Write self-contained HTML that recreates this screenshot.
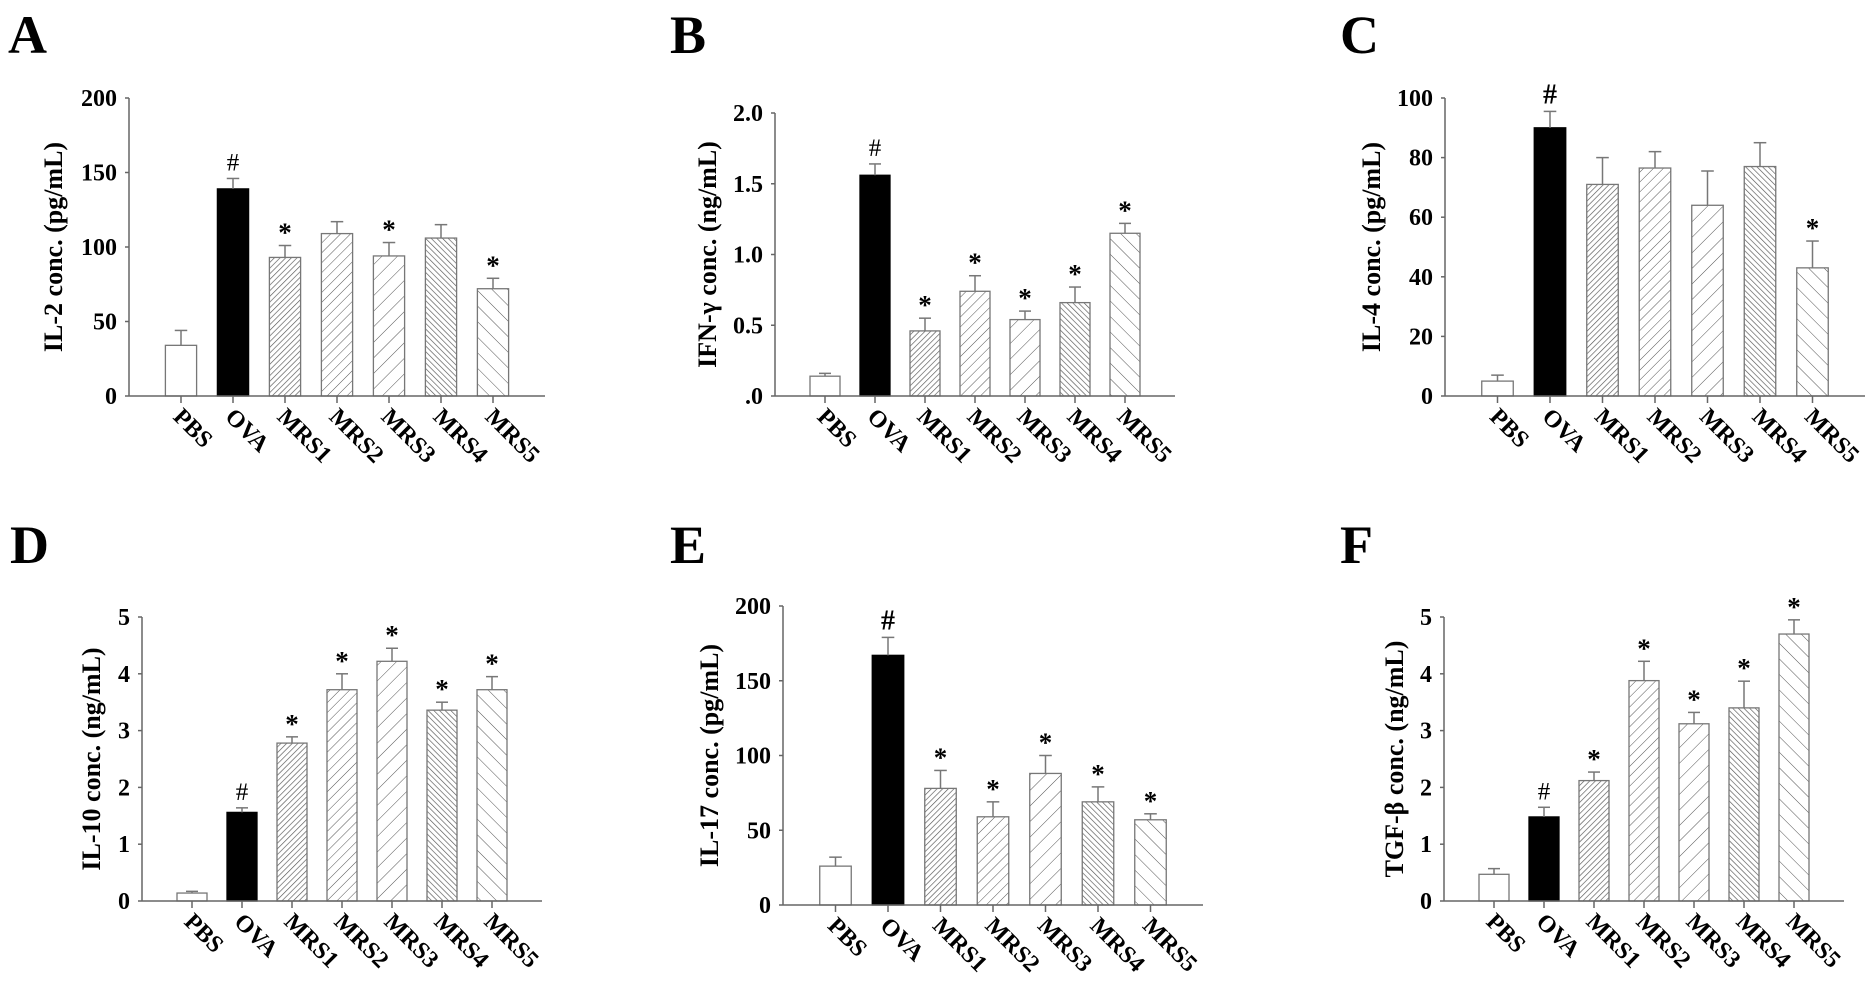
<!DOCTYPE html>
<html><head><meta charset="utf-8">
<style>
html,body{margin:0;padding:0;background:#fff;}
svg{display:block;font-family:"Liberation Serif",serif;}
</style></head>
<body>
<svg id="fig" width="1870" height="992" viewBox="0 0 1870 992" xmlns="http://www.w3.org/2000/svg">
<defs>
<pattern id="p1" width="4" height="4" patternUnits="userSpaceOnUse" patternTransform="rotate(45)"><rect width="4" height="4" fill="#fff"/><line x1="0" y1="0" x2="0" y2="4" stroke="#555" stroke-width="1.3"/></pattern>
<pattern id="p2" width="7" height="7" patternUnits="userSpaceOnUse" patternTransform="rotate(45)"><rect width="7" height="7" fill="#fff"/><line x1="0" y1="0" x2="0" y2="7" stroke="#555" stroke-width="1"/></pattern>
<pattern id="p3" width="11" height="11" patternUnits="userSpaceOnUse" patternTransform="rotate(45)"><rect width="11" height="11" fill="#fff"/><line x1="0" y1="0" x2="0" y2="11" stroke="#555" stroke-width="1"/></pattern>
<pattern id="p4" width="4" height="4" patternUnits="userSpaceOnUse" patternTransform="rotate(-45)"><rect width="4" height="4" fill="#fff"/><line x1="0" y1="0" x2="0" y2="4" stroke="#555" stroke-width="1.3"/></pattern>
<pattern id="p5" width="11" height="11" patternUnits="userSpaceOnUse" patternTransform="rotate(-45)"><rect width="11" height="11" fill="#fff"/><line x1="0" y1="0" x2="0" y2="11" stroke="#555" stroke-width="1"/></pattern>
</defs>
</svg>
<script>
const categories = ["PBS","OVA","MRS1","MRS2","MRS3","MRS4","MRS5"];
const valuesA = [34,139,93,109,94,106,72];
const errorsA = [44,146,101,117,103,115,79];
const marksA = ["","#","*","","*","","*"];
const ticksA = [0,50,100,150,200];
const tickLabelsA = ["0","50","100","150","200"];
const valuesB = [0.14,1.56,0.46,0.74,0.54,0.66,1.15];
const errorsB = [0.16,1.64,0.55,0.85,0.60,0.77,1.22];
const marksB = ["","#","*","*","*","*","*"];
const ticksB = [0,0.5,1,1.5,2];
const tickLabelsB = [".0","0.5","1.0","1.5","2.0"];
const valuesC = [5,90,71,76.5,64,77,43];
const errorsC = [7,95.5,80,82,75.5,85,52];
const marksC = ["","#","","","","","*"];
const ticksC = [0,20,40,60,80,100];
const tickLabelsC = ["0","20","40","60","80","100"];
const valuesD = [0.14,1.56,2.78,3.72,4.22,3.36,3.72];
const errorsD = [0.17,1.64,2.89,4.0,4.45,3.5,3.95];
const marksD = ["","#","*","*","*","*","*"];
const ticksD = [0,1,2,3,4,5];
const tickLabelsD = ["0","1","2","3","4","5"];
const valuesE = [26,167,78,59,88,69,57];
const errorsE = [32,179,90,69,100,79,61];
const marksE = ["","#","*","*","*","*","*"];
const ticksE = [0,50,100,150,200];
const tickLabelsE = ["0","50","100","150","200"];
const valuesF = [0.47,1.48,2.12,3.88,3.12,3.40,4.70];
const errorsF = [0.57,1.65,2.27,4.22,3.32,3.87,4.95];
const marksF = ["","#","*","*","*","*","*"];
const ticksF = [0,1,2,3,4,5];
const tickLabelsF = ["0","1","2","3","4","5"];

const NS="http://www.w3.org/2000/svg";
const svg=document.getElementById('fig');
const fills=["#fff","#000","url(#p1)","url(#p2)","url(#p3)","url(#p4)","url(#p5)"];
function mk(tag,attrs,parent){const e=document.createElementNS(NS,tag);for(const k in attrs)e.setAttribute(k,attrs[k]);(parent||svg).appendChild(e);return e;}

function panel(cfg){
  const g=mk('g',{});
  
  
  const yMin=cfg.ticks[0], yMax=cfg.ticks[cfg.ticks.length-1];
  const y=v=>cfg.yBot-(v-yMin)/(yMax-yMin)*(cfg.yBot-cfg.yTop);
  const x=i=>cfg.axisX+cfg.step*(i+1);
  const bw=cfg.step*0.6;
  const L=mk('text',{x:cfg.lx,y:cfg.ly,'font-size':54,'font-weight':'bold'},g);L.textContent=cfg.letter;
  
  
  cfg.values.forEach((v,i)=>{
    const r=mk('rect',{x:x(i)-bw/2,y:y(v),width:bw,height:cfg.yBot-y(v),fill:fills[i],stroke:i==1?'#000':'#777','stroke-width':1.3},g);
    
    
    const e=cfg.errors[i];
    const eg=mk('g',{stroke:'#777','stroke-width':1.5},g);
    
    
    mk('line',{x1:x(i),x2:x(i),y1:y(v),y2:y(e)},eg);
    mk('line',{x1:x(i)-bw*0.2,x2:x(i)+bw*0.2,y1:y(e),y2:y(e)},eg);
    if(cfg.marks[i]){
      const m=mk('text',{x:x(i),y:y(e)-(cfg.marks[i]=='#'?8:4),'text-anchor':'middle','font-size':cfg.marks[i]=='#'?(cfg.boldHash?28:25):27,'font-weight':cfg.marks[i]=='#'&&!cfg.boldHash?'normal':'bold'},g);
      m.textContent=cfg.marks[i];
      
      
    }
  });
  const ax=mk('g',{stroke:'#666','stroke-width':1.5},g);
  
  
  mk('line',{x1:cfg.axisX,x2:cfg.axisX,y1:cfg.yTop,y2:cfg.yBot},ax);
  mk('line',{x1:cfg.axisX,x2:cfg.axisX+cfg.step*8,y1:cfg.yBot,y2:cfg.yBot},ax);
  cfg.ticks.forEach((t,k)=>{
    mk('line',{x1:cfg.axisX-4,x2:cfg.axisX,y1:y(t),y2:y(t)},ax);
    const tl=mk('text',{x:cfg.axisX-12,y:y(t)+8,'text-anchor':'end','font-size':24,'font-weight':'bold'},g);
    tl.textContent=cfg.tickLabels[k];
    
    
  });
  categories.forEach((c,i)=>{
    mk('line',{x1:x(i),x2:x(i),y1:cfg.yBot,y2:cfg.yBot+7},ax);
    const xl=mk('text',{x:0,y:0,'font-size':24,'font-weight':'bold',transform:`translate(${x(i)-9},${cfg.yBot+22}) rotate(45)`},g);
    xl.textContent=c;
    
    
  });
  const t=mk('text',{x:0,y:0,'text-anchor':'middle','font-size':26,'font-weight':'bold',transform:`translate(${cfg.titleX},${(cfg.yTop+cfg.yBot)/2}) rotate(-90)`},g);
  t.textContent=cfg.title;
  
  
}

panel({letter:'A',lx:8,ly:53,axisX:129,step:52,yTop:98,yBot:396,values:valuesA,errors:errorsA,marks:marksA,ticks:ticksA,tickLabels:tickLabelsA,title:'IL-2 conc. (pg/mL)',titleX:62});
panel({letter:'B',lx:670,ly:53,axisX:775,step:50,yTop:113,yBot:396,values:valuesB,errors:errorsB,marks:marksB,ticks:ticksB,tickLabels:tickLabelsB,title:'IFN-γ conc. (ng/mL)',titleX:716});
panel({letter:'C',lx:1340,ly:53,axisX:1445,step:52.5,yTop:98,yBot:396,values:valuesC,errors:errorsC,marks:marksC,ticks:ticksC,tickLabels:tickLabelsC,title:'IL-4 conc. (pg/mL)',titleX:1380,boldHash:true});
panel({letter:'D',lx:10,ly:563,axisX:142,step:50,yTop:617,yBot:901,values:valuesD,errors:errorsD,marks:marksD,ticks:ticksD,tickLabels:tickLabelsD,title:'IL-10 conc. (ng/mL)',titleX:100});
panel({letter:'E',lx:670,ly:563,axisX:783,step:52.5,yTop:606,yBot:905,values:valuesE,errors:errorsE,marks:marksE,ticks:ticksE,tickLabels:tickLabelsE,title:'IL-17 conc. (pg/mL)',titleX:718,boldHash:true});
panel({letter:'F',lx:1340,ly:563,axisX:1444,step:50,yTop:617,yBot:901,values:valuesF,errors:errorsF,marks:marksF,ticks:ticksF,tickLabels:tickLabelsF,title:'TGF-β conc. (ng/mL)',titleX:1403});
</script>
</body></html>
